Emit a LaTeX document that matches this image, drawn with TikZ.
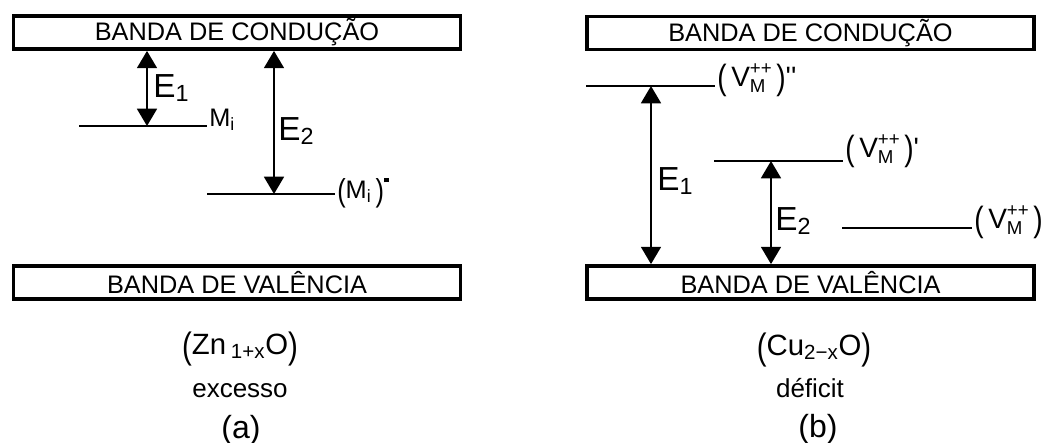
\documentclass[tikz,border=0pt]{standalone}
\usepackage{fontspec}
\setmainfont{Liberation Sans}
\usepackage{graphicx}
\usetikzlibrary{arrows.meta,positioning}

% ++ over M, stacked beside the letter
\newcommand{\supsub}[2]{\raisebox{-5pt}{\fontsize{14}{13.5}\selectfont
  \begin{tabular}[b]{@{}l@{}}#1\\#2\end{tabular}}}
% taller parentheses
\newcommand{\bpar}[1]{\raisebox{-0.14em}{\scalebox{1}[1.25]{#1}}}
\newcommand{\vaga}{\bpar{(}\,V\supsub{++}{M}\,\bpar{)}}

\begin{document}
\begin{tikzpicture}[x=0.75pt,y=-0.75pt,
  banda/.style={draw,line width=2.6pt,minimum width=335pt,minimum height=25pt,
    inner sep=0pt,font=\fontsize{19}{22}\selectfont},
  nivel/.style={line width=1.4pt},
  salto/.style={line width=1.4pt,
    {Triangle[width=15pt,length=13pt]}-{Triangle[width=15pt,length=13pt]}},
  rotulo/.style={inner sep=0pt,anchor=base west,font=\fontsize{19}{22}\selectfont},
  vrotulo/.style={inner sep=0pt,anchor=base west,font=\fontsize{21}{24}\selectfont},
  energia/.style={inner sep=0pt,anchor=base west,font=\fontsize{25}{28}\selectfont},
  formula/.style={inner sep=0pt,anchor=base,font=\fontsize{22}{26}\selectfont},
  palavra/.style={inner sep=0pt,anchor=base,font=\fontsize{19.5}{22}\selectfont},
  letra/.style={inner sep=0pt,anchor=base,font=\fontsize{24}{28}\selectfont}]
  \useasboundingbox (0,0) rectangle (1047,443);

  % (a) excesso de metal
  \node[banda] (cb1) at (237,32.5) {BANDA DE CONDUÇÃO};
  \node[banda] (vb1) at (237,282.5) {BANDA DE VALÊNCIA};

  \coordinate (mi) at (79,126);
  \coordinate (mi1) at (207,194);
  \draw[nivel] (mi) -- ++(128,0) coordinate (mi-e);
  \draw[nivel] (mi1) -- ++(128,0) coordinate (mi1-e);
  \node[rotulo,xshift=1.5pt] (lmi) at (mi-e) {M\textsubscript{i}};
  \node[rotulo,xshift=1.5pt,yshift=-3pt] (lmi1) at (mi1-e)
    {\bpar{(}M\textsubscript{i}\,\bpar{)}\raisebox{0.62em}{\rule{3.5pt}{3.5pt}}};

  \coordinate (e1) at (147,126);
  \coordinate (e2) at (274,194);
  \draw[salto] (e1 |- cb1.south) -- (e1);
  \draw[salto] (e2 |- cb1.south) -- (e2);
  \node[energia] (le1) at (153,97) {E\textsubscript{1}};
  \node[energia] (le2) at (278,140) {E\textsubscript{2}};

  \node[formula] (fa) at (240,354) {\bpar{(}Zn\,\textsubscript{1+x}O\bpar{)}};
  \node[palavra] (pa) at (240,397) {excesso};
  \node[letra] (la) at (241,438) {(a)};

  % (b) deficit de metal
  \node[banda] (cb2) at (810.5,33) {BANDA DE CONDUÇÃO};
  \node[banda] (vb2) at (810.5,282.5) {BANDA DE VALÊNCIA};

  \coordinate (v2) at (586,86);
  \coordinate (v1) at (714,161);
  \coordinate (v0) at (842,228);
  \draw[nivel] (v2) -- ++(129,0) coordinate (v2-e);
  \draw[nivel] (v1) -- ++(129,0) coordinate (v1-e);
  \draw[nivel] (v0) -- ++(130,0) coordinate (v0-e);
  \node[vrotulo,xshift=1.5pt] (lv2) at (v2-e)
    {\vaga\textquotesingle\textquotesingle};
  \node[vrotulo,xshift=1.5pt,yshift=3pt] (lv1) at (v1-e)
    {\vaga\textquotesingle};
  \node[vrotulo,xshift=1.5pt] (lv0) at (v0-e) {\vaga};

  \coordinate (f1) at (651,86);
  \coordinate (f2) at (771,161);
  \draw[salto] (f1) -- (f1 |- vb2.north);
  \draw[salto] (f2) -- (f2 |- vb2.north);
  \node[energia] (lf1) at (657,190) {E\textsubscript{1}};
  \node[energia] (lf2) at (775,230) {E\textsubscript{2}};

  \node[formula] (fb) at (814,355) {\bpar{(}Cu\textsubscript{2−x}O\bpar{)}};
  \node[palavra] (pb) at (810,397) {déficit};
  \node[letra] (lb) at (818,437) {(b)};
\end{tikzpicture}
\end{document}
